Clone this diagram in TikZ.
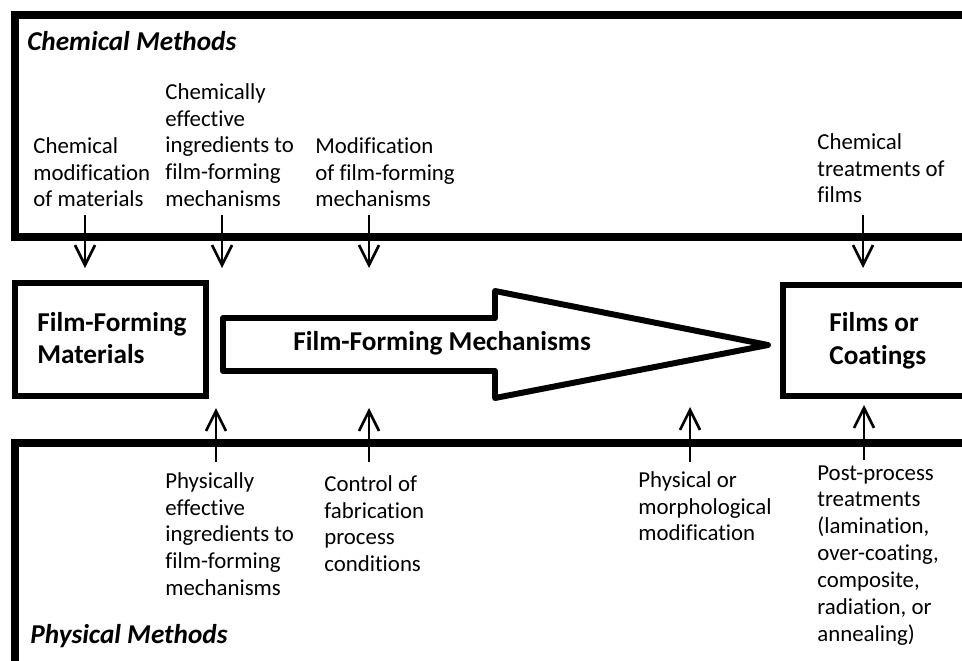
\documentclass[tikz,border=0pt]{standalone}
\usepackage{fontspec}
\setmainfont{Carlito}[Ligatures=CommonOff]
\usetikzlibrary{arrows.meta}

\tikzset{
  frame/.style={line width=4pt},
  boxline/.style={line width=3.4pt},
  note/.style={anchor=north west, align=left, inner sep=0pt,
    font=\fontsize{13}{15.3}\selectfont},
  boxlabel/.style={anchor=west, align=left, inner sep=0pt,
    font=\fontsize{15.5}{18.7}\selectfont\bfseries},
  heading/.style={anchor=west, inner sep=0pt,
    font=\fontsize{15.5}{18.7}\selectfont\bfseries\itshape},
  feed/.style={line width=1.5pt, -{Straight Barb[length=4mm,width=4mm]}}
}

\begin{document}
\begin{tikzpicture}[x=0.02cm,y=-0.02cm]
        \useasboundingbox (0,0) rectangle (962,660);

        % chemical methods frame
        \draw[frame] (975,15) -- (15,15) -- (15,237) -- (975,237);
        \node[heading] (chem) at (27,41) {Chemical Methods};

        % physical methods frame
        \draw[frame] (975,443) -- (15,443) -- (15,675);
        \node[heading] (phys) at (30,636) {Physical Methods};

        % materials box
        \draw[boxline] (15,283) rectangle (206,396);
        \node[boxlabel] (mat) at (37,338) {Film-Forming\\Materials};

        % mechanisms arrow
        \draw[boxline, line join=round] (223,318) -- (495,318) -- (495,291)
            -- (768,345) -- (495,398) -- (495,371) -- (223,371) -- cycle;
        \node[boxlabel] (mech) at (293,343) {Film-Forming Mechanisms};

        % films box
        \draw[boxline] (975,285) -- (783,285) -- (783,396) -- (975,396);
        \node[boxlabel] (film) at (829,341) {Films or\\Coatings};

        % chemical notes
        \node[note] (chemmod) at (33,137) {Chemical\\modification\\of materials};
        \node[note] (chemingr) at (165,83) {Chemically\\effective\\ingredients to\\film-forming\\mechanisms};
        \node[note] (mechmod) at (315,137) {Modification\\of film-forming\\mechanisms};
        \node[note] (chemtreat) at (817,133) {Chemical\\treatments of\\films};

        % physical notes
        \node[note] (physingr) at (165,472) {Physically\\effective\\ingredients to\\film-forming\\mechanisms};
        \node[note] (control) at (324,475) {Control of\\fabrication\\process\\conditions};
        \node[note] (morph) at (638,471) {Physical or\\morphological\\modification};
        \node[note] (postproc) at (817,465) {Post-process\\treatments\\(lamination,\\over-coating,\\composite,\\radiation, or\\annealing)};

        % arrow ends
        \coordinate (chemmod-s) at (85,215);
        \coordinate (chemmod-e) at (85,268);
        \coordinate (chemingr-s) at (222,215);
        \coordinate (chemingr-e) at (222,268);
        \coordinate (mechmod-s) at (369,215);
        \coordinate (mechmod-e) at (369,268);
        \coordinate (chemtreat-s) at (863,215);
        \coordinate (chemtreat-e) at (863,268);
        \coordinate (physingr-s) at (216,462);
        \coordinate (physingr-e) at (216,408);
        \coordinate (control-s) at (369,462);
        \coordinate (control-e) at (369,408);
        \coordinate (morph-s) at (690,462);
        \coordinate (morph-e) at (690,407);
        \coordinate (postproc-s) at (864,460);
        \coordinate (postproc-e) at (864,405);

        % arrows
        \draw[feed] (chemmod-s) -- (chemmod-e);
        \draw[feed] (chemingr-s) -- (chemingr-e);
        \draw[feed] (mechmod-s) -- (mechmod-e);
        \draw[feed] (chemtreat-s) -- (chemtreat-e);
        \draw[feed] (physingr-s) -- (physingr-e);
        \draw[feed] (control-s) -- (control-e);
        \draw[feed] (morph-s) -- (morph-e);
        \draw[feed] (postproc-s) -- (postproc-e);
    \end{tikzpicture}
\end{document}
